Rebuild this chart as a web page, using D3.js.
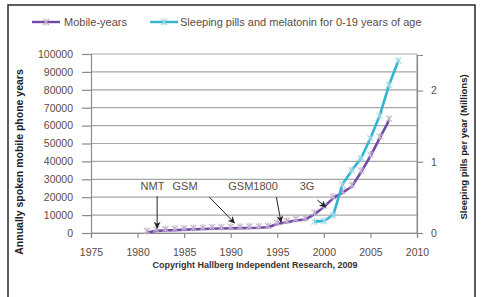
<!DOCTYPE html>
<html><head><meta charset="utf-8">
<script src="https://cdn.jsdelivr.net/npm/d3@7"></script>
<style>body{margin:0;background:#fff;}svg{display:block;}</style>
</head><body><svg id="c" width="482" height="297"></svg>
<script>
const mobileYears = [1981,1982,1983,1984,1985,1986,1987,1988,1989,1990,1991,1992,1993,1994,1995,1996,1997,1998,1999,2000,2001,2002,2003,2004,2005,2006,2007];
const mobileValues = [300,1200,1400,1600,1800,2000,2200,2400,2500,2600,2700,2800,2900,3200,5000,6000,7000,7500,10500,14500,19500,22500,26000,34000,43000,53000,63000];
const pillYears = [1999,2000,2001,2002,2003,2004,2005,2006,2007,2008];
const pillValues = [0.16,0.17,0.25,0.68,0.88,1.05,1.33,1.65,2.08,2.42];
const xTicks = [1975,1980,1985,1990,1995,2000,2005,2010];
const yTicks = [0,10000,20000,30000,40000,50000,60000,70000,80000,90000,100000];
const y2Ticks = [0,1,2];
const seriesNames = ["Mobile-years","Sleeping pills and melatonin for 0-19 years of age"];
const annoLabels = ["NMT","GSM","GSM1800","3G"];
const annoLabelX = [1981.6,1985.1,1992.4,1998.2];
const annoTailX = [1982.1,1987.7,1994.9,1999.3];
const annoTailY = [20500,20100,20100,18400];
const annoTipX = [1982.1,1990.4,1995.4,2000.2];
const annoTipY = [2800,5600,6100,14500];
const copyright = "Copyright Hallberg Independent Research, 2009";
const leftTitle = "Annually spoken mobile phone years";
const rightTitle = "Sleeping pills per year (Millions)";

const svg = d3.select("#c");
const L=91, R=417, T=54, B=233;
const x = d3.scaleLinear().domain([1975,2010]).range([L,R]);
const y = d3.scaleLinear().domain([0,100000]).range([B,T]);
const y2 = d3.scaleLinear().domain([0,2.5]).range([B,T+1]);
const purple="#7448a8", cyan="#2fb4d2", txt="#5b4b45", grid="#a6a6a6";
const font="'Liberation Sans', Arial, sans-serif";

svg.append("rect").attr("x",8).attr("y",5).attr("width",467).attr("height",300)
  .attr("fill","#fff").attr("stroke","#2a2a2a").attr("stroke-width",1.5);

svg.append("g").selectAll("line").data(yTicks).join("line")
  .attr("x1",L).attr("x2",R).attr("y1",d=>y(d)).attr("y2",d=>y(d))
  .attr("stroke",grid).attr("stroke-width",1.2);
svg.append("line").attr("x1",R).attr("x2",R).attr("y1",T).attr("y2",B).attr("stroke",grid).attr("stroke-width",1.2);

const gl = svg.append("g").attr("transform",`translate(${L},0)`)
  .call(d3.axisLeft(y).tickValues(yTicks).tickSize(9).tickPadding(9).tickFormat(d3.format("d")));
gl.select(".domain").attr("stroke","#8c8c8c").attr("stroke-width",1.2);
gl.selectAll(".tick line").attr("stroke","#8c8c8c").attr("stroke-width",1.2);
gl.selectAll("text").attr("font-family",font).attr("font-size",10.5).attr("fill",txt);

const gr = svg.append("g").attr("transform",`translate(${R},0)`)
  .call(d3.axisRight(y2).tickValues(y2Ticks).tickSize(6).tickPadding(8).tickFormat(d3.format("d")));
gr.select(".domain").attr("stroke","#8c8c8c").attr("stroke-width",1.2);
gr.selectAll(".tick line").attr("stroke","#8c8c8c").attr("stroke-width",1.2);
gr.selectAll("text").attr("font-family",font).attr("font-size",10.5).attr("fill",txt);

const gb = svg.append("g").attr("transform",`translate(0,${B})`)
  .call(d3.axisBottom(x).tickValues(xTicks).tickSize(5).tickPadding(11).tickFormat(d3.format("d")));
gb.select(".domain").attr("stroke","#8c8c8c").attr("stroke-width",1.2);
gb.selectAll(".tick line").attr("stroke","#8c8c8c").attr("stroke-width",1.2);
gb.selectAll("text").attr("font-family",font).attr("font-size",10.5).attr("fill",txt);

function star(g, cx, cy, color){
  const s=3;
  g.append("path").attr("d",`M${cx-s},${cy-s}L${cx+s},${cy+s}M${cx-s},${cy+s}L${cx+s},${cy-s}M${cx},${cy-s-0.5}L${cx},${cy+s+0.5}`)
   .attr("stroke",color).attr("stroke-width",1.1).attr("fill","none");
}

const line1 = d3.line().x((d,i)=>x(mobileYears[i])).y(d=>y(d));
svg.append("path").datum(mobileValues).attr("d",line1).attr("fill","none")
  .attr("stroke",purple).attr("stroke-width",2.6).attr("stroke-linejoin","round");
const m1 = svg.append("g");
mobileValues.forEach((v,i)=>star(m1,x(mobileYears[i]),y(v)-1.5,"#c4b2cc"));

const line2 = d3.line().x((d,i)=>x(pillYears[i])).y(d=>y2(d));
svg.append("path").datum(pillValues).attr("d",line2).attr("fill","none")
  .attr("stroke",cyan).attr("stroke-width",2.6).attr("stroke-linejoin","round");
const m2 = svg.append("g");
pillValues.forEach((v,i)=>star(m2,x(pillYears[i]),y2(v),"#9fd6e2"));

svg.append("defs").append("marker").attr("id","ah").attr("viewBox","0 0 10 10")
  .attr("refX",9).attr("refY",5).attr("markerWidth",7).attr("markerHeight",7).attr("orient","auto")
  .append("path").attr("d","M0,0L10,5L0,10L3,5Z").attr("fill","#222");
const ga = svg.append("g");
annoLabels.forEach((t,i)=>{
  ga.append("line").attr("x1",x(annoTailX[i])).attr("y1",y(annoTailY[i]))
    .attr("x2",x(annoTipX[i])).attr("y2",y(annoTipY[i]))
    .attr("stroke","#222").attr("stroke-width",1).attr("marker-end","url(#ah)");
  ga.append("text").attr("x",x(annoLabelX[i])).attr("y",y(24000)).attr("text-anchor","middle")
    .attr("font-family",font).attr("font-size",11).attr("fill",txt).text(t);
});

const lg = svg.append("g");
const legX = [32,150], legTX=[64,180], legC=[purple,cyan], legM=["#c4b2cc","#9fd6e2"];
seriesNames.forEach((n,i)=>{
  lg.append("line").attr("x1",legX[i]).attr("x2",legX[i]+28).attr("y1",22).attr("y2",22)
    .attr("stroke",legC[i]).attr("stroke-width",2.4);
  star(lg,legX[i]+14,22,legM[i]);
  lg.append("text").attr("x",legTX[i]).attr("y",26).attr("font-family",font).attr("font-size",11)
    .attr("fill",txt).text(n);
});

svg.append("text").attr("transform","translate(23,162) rotate(-90)").attr("text-anchor","middle")
  .attr("font-family",font).attr("font-size",10.5).attr("font-weight","bold").attr("fill","#222").text(leftTitle);
svg.append("text").attr("transform","translate(467,147) rotate(-90)").attr("text-anchor","middle")
  .attr("font-family",font).attr("font-size",9.5).attr("font-weight","bold").attr("fill","#222").text(rightTitle);

svg.append("text").attr("x",255).attr("y",268).attr("text-anchor","middle")
  .attr("font-family",font).attr("font-size",9).attr("font-weight","bold").attr("fill","#3a3030").text(copyright);
</script></body></html>
